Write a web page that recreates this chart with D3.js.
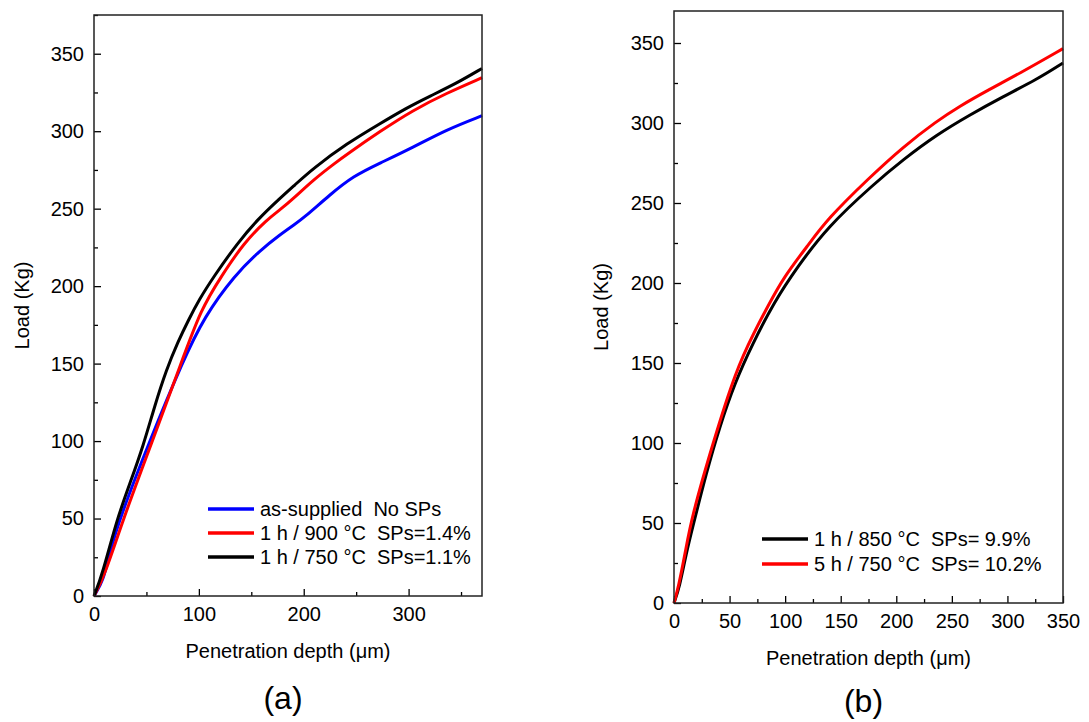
<!DOCTYPE html>
<html>
<head>
<meta charset="utf-8">
<script src="https://cdn.jsdelivr.net/npm/d3@7"></script>
<style>
  body { margin: 0; background: #fff; }
  text { font-family: "Liberation Sans", Arial, sans-serif; fill: #000; }
</style>
</head>
<body>
<svg id="chart" width="1089" height="722"></svg>
<script>
// panel (a) data: [depth (um), load (Kg)]
var asSupplied = [[0,0],[9,10],[15,28],[25,51],[53,100],[85,152],[105,180],[134,207],[159,223.5],[177,233],[191,239.7],[200,244],[225,259],[247,271],[273,279.5],[304,289.5],[336,301],[370,310]];
var h1t900 = [[0,0],[10,13],[28,50],[54,97],[84,152],[102,185],[121,206],[143,228],[165,243],[177,249],[191,257],[209,268.5],[230,279.5],[241,285],[273,300],[304,313.5],[336,324.5],[370,334.5]];
var h1t750 = [[0,0],[8,14],[22,50],[35,74],[47,97],[58,123],[69,146],[80,164],[90,178],[100,191],[114,206],[137,228],[156,243],[177,256.5],[191,265],[209,276],[241,292],[273,305],[298,315],[320,322.5],[346,331],[370,340.5]];

// panel (b) data
var h1t850 = [[0,0],[5,10],[11,31],[17,48],[29,81],[41,110],[55,138],[70,161],[90,188],[111,210],[138,235],[180,262],[206,277],[236,292.5],[266,305],[296,316.5],[326,327],[350,337.5]];
var h5t750 = [[0,0],[4,10],[10,31],[16,54],[35,100],[56,146],[72,169],[84,185],[99,204],[120,223],[138,240],[176,266],[206,285],[236,301],[257,310.5],[281,320],[311,331],[350,346.5]];

var yTicks = [0, 50, 100, 150, 200, 250, 300, 350];
var xTicksA = [0, 100, 200, 300];
var xTicksB = [0, 50, 100, 150, 200, 250, 300, 350];

var svg = d3.select("#chart");

function drawPanel(opt) {
  var g = svg.append("g");
  var x = d3.scaleLinear().domain(opt.xDomain).range([opt.left, opt.right]);
  var y = d3.scaleLinear().domain(opt.yDomain).range([opt.bottom, opt.top]);

  // minor ticks
  g.append("g")
    .attr("transform", "translate(0," + opt.bottom + ")")
    .call(d3.axisBottom(x).tickValues(opt.xMinor).tickSize(-4).tickFormat(""))
    .call(function(s) { s.select(".domain").remove(); });
  g.append("g")
    .attr("transform", "translate(" + opt.left + ",0)")
    .call(d3.axisLeft(y).tickValues(opt.yMinor).tickSize(-4).tickFormat(""))
    .call(function(s) { s.select(".domain").remove(); });

  // major ticks
  var xa = g.append("g")
    .attr("transform", "translate(0," + opt.bottom + ")")
    .call(d3.axisBottom(x).tickValues(opt.xTicks).tickSize(-7).tickPadding(11));
  var ya = g.append("g")
    .attr("transform", "translate(" + opt.left + ",0)")
    .call(d3.axisLeft(y).tickValues(yTicks).tickSize(-7).tickPadding(10));
  [xa, ya].forEach(function(a) {
    a.select(".domain").remove();
    a.selectAll("text").style("font-size", "20px").style("font-family", "'Liberation Sans', Arial, sans-serif");
  });
  g.selectAll(".tick line").attr("stroke", "#000").attr("stroke-width", 1.3);

  var line = d3.line()
    .x(function(d) { return x(d[0]); })
    .y(function(d) { return y(d[1]); })
    .curve(d3.curveBasis);

  opt.series.forEach(function(s) {
    g.append("path")
      .datum(s.data)
      .attr("fill", "none")
      .attr("stroke", s.color)
      .attr("stroke-width", 3)
      .attr("stroke-linejoin", "round")
      .attr("d", line);
  });

  // frame
  g.append("rect")
    .attr("x", opt.left).attr("y", opt.top)
    .attr("width", opt.right - opt.left).attr("height", opt.bottom - opt.top)
    .attr("fill", "none").attr("stroke", "#222").attr("stroke-width", 1.5);

  // legend
  opt.series.forEach(function(s, i) {
    var ly = opt.legY + i * opt.legStep;
    g.append("line")
      .attr("x1", opt.legX).attr("x2", opt.legX + 46)
      .attr("y1", ly).attr("y2", ly)
      .attr("stroke", s.color).attr("stroke-width", 3.5);
    g.append("text")
      .attr("x", opt.legX + 52).attr("y", ly)
      .attr("dy", "0.36em")
      .style("font-size", "20px")
      .style("white-space", "pre")
      .text(s.label);
  });

  // axis titles
  g.append("text")
    .attr("x", (opt.left + opt.right) / 2).attr("y", opt.bottom + 62)
    .attr("text-anchor", "middle")
    .style("font-size", "20px")
    .text("Penetration depth (\u03bcm)");
  g.append("text")
    .attr("transform", "translate(" + opt.yLabelX + "," + (opt.top + opt.bottom) / 2 + ") rotate(-90)")
    .attr("text-anchor", "middle")
    .attr("dy", "0.36em")
    .style("font-size", "20px")
    .text("Load (Kg)");

  g.append("text")
    .attr("x", (opt.left + opt.right) / 2 - 5).attr("y", opt.panelY)
    .attr("text-anchor", "middle")
    .style("font-size", "32px")
    .text(opt.panel);
}

drawPanel({
  left: 94, right: 482, top: 15, bottom: 596,
  xDomain: [0, 370], yDomain: [0, 375],
  xTicks: xTicksA, xMinor: [50, 150, 250, 350],
  yMinor: [25, 75, 125, 175, 225, 275, 325, 375],
  series: [
    {data: asSupplied, color: "#0000ff", label: "as-supplied  No SPs"},
    {data: h1t900, color: "#ff0000", label: "1 h / 900 \u00b0C  SPs=1.4%"},
    {data: h1t750, color: "#000000", label: "1 h / 750 \u00b0C  SPs=1.1%"}
  ],
  legX: 208, legY: 509, legStep: 24,
  yLabelX: 22, panel: "(a)", panelY: 709
});

drawPanel({
  left: 674, right: 1063, top: 11, bottom: 603,
  xDomain: [0, 350], yDomain: [0, 370],
  xTicks: xTicksB, xMinor: [25, 75, 125, 175, 225, 275, 325],
  yMinor: [25, 75, 125, 175, 225, 275, 325],
  series: [
    {data: h1t850, color: "#000000", label: "1 h / 850 \u00b0C  SPs= 9.9%"},
    {data: h5t750, color: "#ff0000", label: "5 h / 750 \u00b0C  SPs= 10.2%"}
  ],
  legX: 762, legY: 539, legStep: 25,
  yLabelX: 601, panel: "(b)", panelY: 712
});
</script>
</body>
</html>
